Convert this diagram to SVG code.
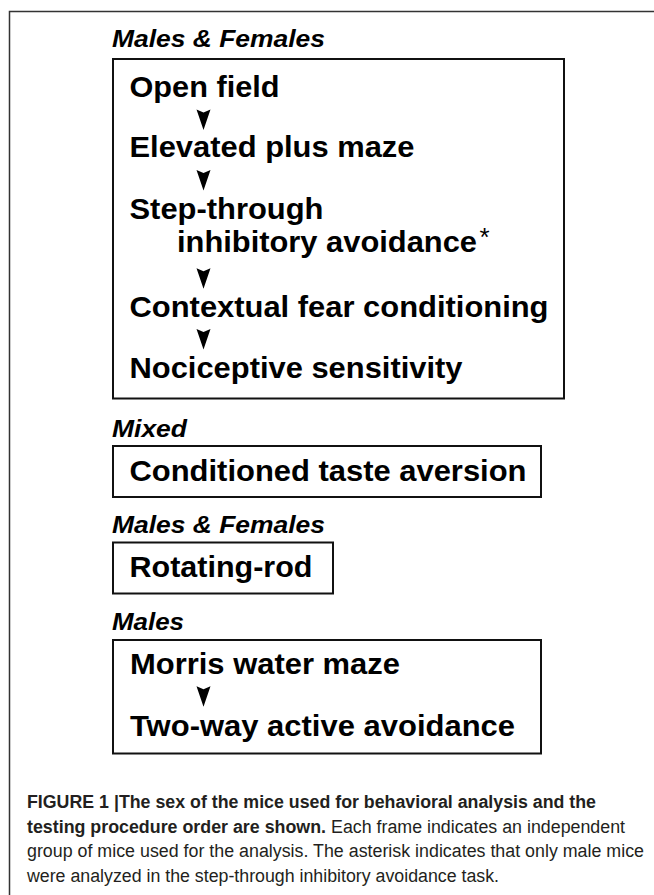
<svg xmlns="http://www.w3.org/2000/svg" width="654" height="895" viewBox="0 0 654 895">
<style>
.frame{fill:none;stroke:#333;stroke-width:1.5}
.box{fill:none;stroke:#111;stroke-width:2}
.lbl{font-family:"Liberation Sans",Arial,sans-serif;font-weight:bold;font-style:italic;font-size:24px;fill:#000}
.t{font-family:"Liberation Sans",Arial,sans-serif;font-weight:bold;font-size:30px;fill:#000}
.ast{font-family:"Liberation Sans",Arial,sans-serif;font-size:26px;fill:#000}
.cap{font-family:"Liberation Sans",Arial,sans-serif;font-size:18px;fill:#231f20}
.capb{font-weight:bold}
.ah{fill:#000}
</style>
<defs>
<path id="arrowhead" d="M-7,0 L0,3 L7,0 L0,20.5 Z"/>
</defs>
<rect width="654" height="895" fill="#fff"/>
<path class="frame" d="M654,11.5 H9.5 V895"/>

<g id="group1">
<text class="lbl" x="112" y="46.7" textLength="213" lengthAdjust="spacingAndGlyphs">Males &amp; Females</text>
<rect class="box" x="113" y="59" width="451" height="339.5"/>
</g>
<g id="open-field"><text class="t" x="129.5" y="97" textLength="150" lengthAdjust="spacingAndGlyphs">Open field</text></g>
<g id="elevated-plus-maze"><text class="t" x="129.5" y="157" textLength="285" lengthAdjust="spacingAndGlyphs">Elevated plus maze</text></g>
<g id="step-through">
<text class="t" x="129.5" y="218.5" textLength="194" lengthAdjust="spacingAndGlyphs">Step-through</text>
<text class="t" x="177" y="252" textLength="300" lengthAdjust="spacingAndGlyphs">inhibitory avoidance</text>
<text class="ast" x="479.5" y="246">*</text>
</g>
<g id="contextual-fear"><text class="t" x="129.5" y="317" textLength="419" lengthAdjust="spacingAndGlyphs">Contextual fear conditioning</text></g>
<g id="nociceptive"><text class="t" x="129.5" y="378.3" textLength="333" lengthAdjust="spacingAndGlyphs">Nociceptive sensitivity</text></g>

<g id="group2">
<text class="lbl" x="112" y="436.7" textLength="75" lengthAdjust="spacingAndGlyphs">Mixed</text>
<rect class="box" x="113" y="446" width="428" height="51"/>
</g>
<g id="conditioned-taste"><text class="t" x="129.5" y="480.5" textLength="397" lengthAdjust="spacingAndGlyphs">Conditioned taste aversion</text></g>

<g id="group3">
<text class="lbl" x="112" y="533.3" textLength="213" lengthAdjust="spacingAndGlyphs">Males &amp; Females</text>
<rect class="box" x="113" y="542.5" width="220" height="51"/>
</g>
<g id="rotating-rod"><text class="t" x="129.5" y="577" textLength="183" lengthAdjust="spacingAndGlyphs">Rotating-rod</text></g>

<g id="group4">
<text class="lbl" x="112" y="630" textLength="72" lengthAdjust="spacingAndGlyphs">Males</text>
<rect class="box" x="113" y="640" width="428" height="113.5"/>
</g>
<g id="morris"><text class="t" x="130" y="673.5" textLength="270" lengthAdjust="spacingAndGlyphs">Morris water maze</text></g>
<g id="two-way"><text class="t" x="130" y="736" textLength="385" lengthAdjust="spacingAndGlyphs">Two-way active avoidance</text></g>

<g id="connectors" class="ah">
<use href="#arrowhead" x="203.5" y="109.5"/>
<use href="#arrowhead" x="203.5" y="170"/>
<use href="#arrowhead" x="203.5" y="268.3"/>
<use href="#arrowhead" x="203.5" y="329"/>
<use href="#arrowhead" x="203.5" y="686.3"/>
</g>

<g id="caption">
<text class="cap capb" x="27" y="808.3" textLength="569" lengthAdjust="spacingAndGlyphs">FIGURE 1 |The sex of the mice used for behavioral analysis and the</text>
<text class="cap capb" x="27" y="832.7" textLength="299" lengthAdjust="spacingAndGlyphs">testing procedure order are shown.</text>
<text class="cap" x="331" y="832.7" textLength="294" lengthAdjust="spacingAndGlyphs">Each frame indicates an independent</text>
<text class="cap" x="27" y="857.2" textLength="617" lengthAdjust="spacingAndGlyphs">group of mice used for the analysis. The asterisk indicates that only male mice</text>
<text class="cap" x="27" y="881.6" textLength="472" lengthAdjust="spacingAndGlyphs">were analyzed in the step-through inhibitory avoidance task.</text>
</g>
</svg>
